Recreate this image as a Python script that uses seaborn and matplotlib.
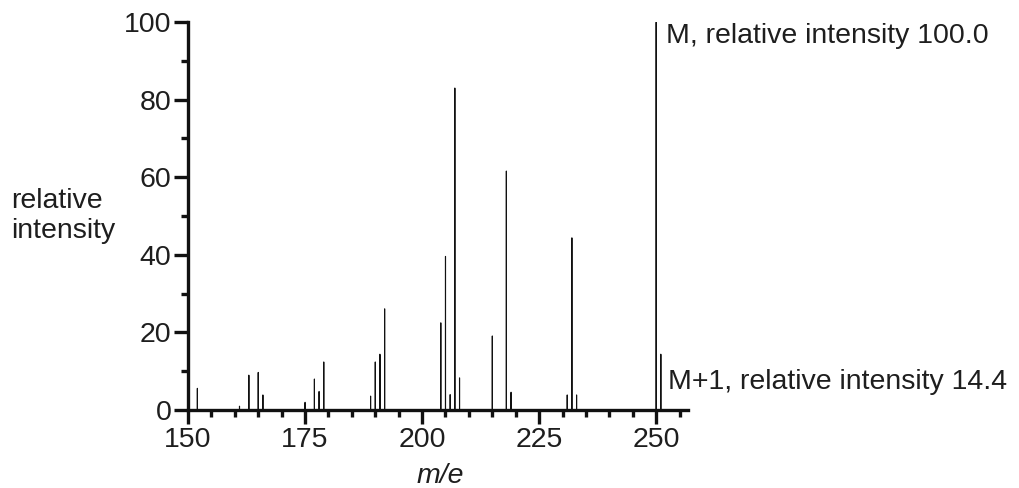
import matplotlib
matplotlib.use("Agg")
import matplotlib.pyplot as plt
import seaborn as sns
import numpy as np

# m/e values and relative intensities
mass = [152, 161, 163, 165, 166, 175, 177, 178, 179, 189, 190, 191, 192,
        204, 205, 206, 207, 208, 215, 218, 219, 231, 232, 233, 250, 251]
intensity = [5.6, 1.0, 9.0, 9.7, 3.9, 2.0, 8.0, 4.8, 12.4, 3.6, 12.4, 14.4, 26.1,
             22.5, 39.6, 4.0, 83.0, 8.3, 19.1, 61.6, 4.6, 3.9, 44.4, 3.9, 100.0, 14.4]

x_major = [150, 175, 200, 225, 250]
y_major = [0, 20, 40, 60, 80, 100]
label_M = "M, relative intensity 100.0"
label_M1 = "M+1, relative intensity 14.4"

sns.set_style("ticks")
plt.rcParams["font.family"] = ["Liberation Sans", "DejaVu Sans"]

FS = 20.5
TXT = "#1e1e1e"

fig = plt.figure(figsize=(10.19, 4.88), dpi=100)
ax = fig.add_axes([188 / 1019, 78 / 488, 500 / 1019, 388 / 488])

sns.barplot(x=mass, y=intensity, native_scale=True, width=0.01,
            color="#111111", edgecolor="#111111", linewidth=0.8, saturation=1,
            ax=ax, errorbar=None)
for p in ax.patches:
    p.set_snap(False)

ax.set_xlim(150, 256.8)
ax.set_ylim(0, 100)
ax.set_xticks(x_major)
ax.set_xticks(np.arange(155, 256, 5), minor=True)
ax.set_yticks(y_major)
ax.set_yticks(np.arange(10, 100, 20), minor=True)
ax.set_xticklabels([str(v) for v in x_major])
ax.set_yticklabels([str(v) for v in y_major])

for s in ["top", "right"]:
    ax.spines[s].set_visible(False)
for s in ["left", "bottom"]:
    ax.spines[s].set_linewidth(2.4)
    ax.spines[s].set_color("#111111")
    ax.spines[s].set_zorder(5)

ax.tick_params(axis="both", which="major", length=10, width=2.4, color="#111111",
               labelsize=FS, labelcolor=TXT, pad=2, direction="out")
ax.tick_params(axis="both", which="minor", length=5, width=2.4, color="#111111",
               direction="out")

ax.set_xlabel("m/e", fontsize=FS, style="italic", color=TXT)
ax.xaxis.set_label_coords(252 / 500, -0.170)
ax.xaxis.label.set_va("center")
ax.set_ylabel("")
fig.text(11 / 1019, 1 - 216 / 488, "relative\nintensity", fontsize=FS,
         color=TXT, ha="left", va="center", linespacing=1.2)

t1 = ax.text(252.2, 96.4, label_M, fontsize=FS, color=TXT, ha="left", va="center")
t2 = ax.text(252.5, 7.2, label_M1, fontsize=FS, color=TXT, ha="left", va="center")
t1.set_clip_on(False)
t2.set_clip_on(False)

fig.savefig("out.png", dpi=100)
